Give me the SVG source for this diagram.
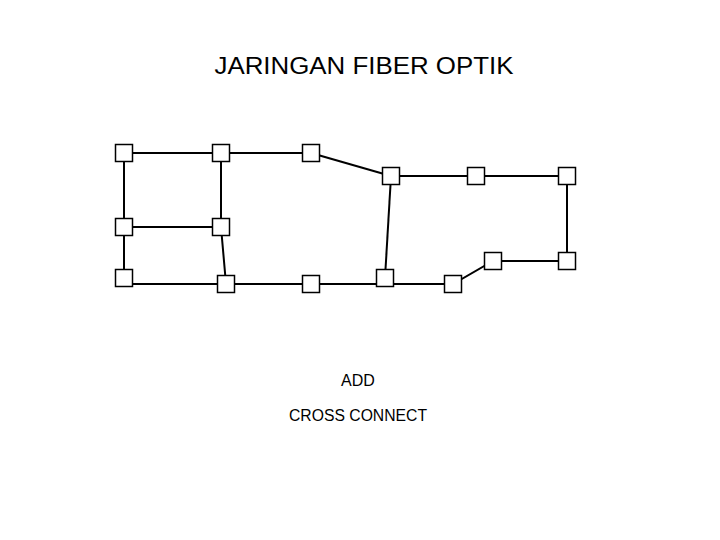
<svg xmlns="http://www.w3.org/2000/svg" width="720" height="540" viewBox="0 0 720 540">
<style>
.n{fill:#fff;stroke:#000;stroke-width:1.5}
.e{stroke:#000;stroke-width:2;fill:none}
text{font-family:"Liberation Sans",Arial,sans-serif;fill:#000}
</style>
<rect width="720" height="540" fill="#fff"/>
<text x="364" y="74" font-size="23" text-anchor="middle" textLength="299" lengthAdjust="spacingAndGlyphs">JARINGAN FIBER OPTIK</text>
<g id="connectors" class="e">
<path d="M124 153H221H311"/><path d="M311 153L391 176"/><path d="M391 176H476H567V261H493L453 284H385L311 284H226H124"/>
<path d="M124 153V278"/><path d="M124 227H221"/><path d="M221 153V227L226 284"/><path d="M391 176L385 278"/>
</g>
<g id="nA"><rect class="n" x="115.5" y="144.5" width="17" height="17"/></g>
<g id="nB"><rect class="n" x="212.5" y="144.5" width="17" height="17"/></g>
<g id="nC"><rect class="n" x="302.5" y="144.5" width="17" height="17"/></g>
<g id="nD"><rect class="n" x="382.5" y="167.5" width="17" height="17"/></g>
<g id="nE"><rect class="n" x="467.5" y="167.5" width="17" height="17"/></g>
<g id="nF"><rect class="n" x="558.5" y="167.5" width="17" height="17"/></g>
<g id="nG"><rect class="n" x="115.5" y="218.5" width="17" height="17"/></g>
<g id="nH"><rect class="n" x="212.5" y="218.5" width="17" height="17"/></g>
<g id="nI"><rect class="n" x="115.5" y="269.5" width="17" height="17"/></g>
<g id="nJ"><rect class="n" x="217.5" y="275.5" width="17" height="17"/></g>
<g id="nK"><rect class="n" x="302.5" y="275.5" width="17" height="17"/></g>
<g id="nL"><rect class="n" x="376.5" y="269.5" width="17" height="17"/></g>
<g id="nM"><rect class="n" x="444.5" y="275.5" width="17" height="17"/></g>
<g id="nN"><rect class="n" x="484.5" y="252.5" width="17" height="17"/></g>
<g id="nO"><rect class="n" x="558.5" y="252.5" width="17" height="17"/></g>
<text x="358" y="386" font-size="16" text-anchor="middle">ADD</text>
<text x="358" y="421" font-size="16" text-anchor="middle" textLength="138" lengthAdjust="spacingAndGlyphs">CROSS CONNECT</text>
</svg>
